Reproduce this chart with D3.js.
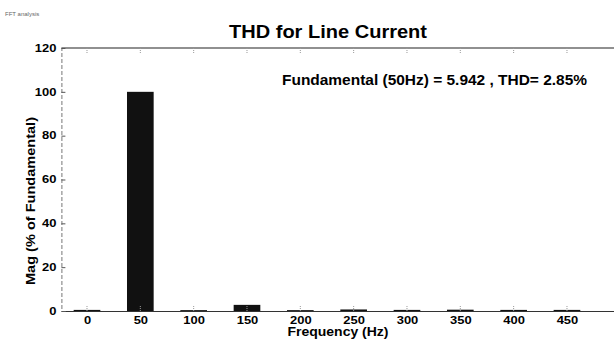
<!DOCTYPE html>
<html><head><meta charset="utf-8">
<script src="https://cdn.jsdelivr.net/npm/d3@7/dist/d3.min.js"></script>
<style>body{margin:0;background:#fff}svg{display:block;font-family:"Liberation Sans",Arial,sans-serif}</style>
</head><body>
<script>
const frequencies = [0, 50, 100, 150, 200, 250, 300, 350, 400, 450];
const magnitudes = [0.5, 100, 0.4, 2.8, 0.4, 0.7, 0.5, 0.6, 0.5, 0.5];
const yTicks = [0, 20, 40, 60, 80, 100, 120];
const xTicks = [0, 50, 100, 150, 200, 250, 300, 350, 400, 450];
const titleText = "THD for Line Current";
const noteText = "Fundamental (50Hz) = 5.942 , THD= 2.85%";

const W = 614, H = 342;
const svg = d3.select("body").append("svg").attr("width", W).attr("height", H);

const x = d3.scaleLinear().domain([-24, 500]).range([61.4, 620.3]);
const y = d3.scaleLinear().domain([0, 120]).range([311, 48]);
const barW = x(25) - x(0);

svg.append("text").attr("x", 5).attr("y", 16).attr("font-size", 6).attr("fill", "#666").text("FFT analysis");

// bars
svg.selectAll("rect.bar").data(frequencies).join("rect")
  .attr("class", "bar")
  .attr("x", d => x(d) - barW / 2)
  .attr("width", barW)
  .attr("y", (d, i) => y(magnitudes[i]))
  .attr("height", (d, i) => y(0) - y(magnitudes[i]))
  .attr("fill", "#111");

function stretchDigits(sel) {
  sel.attr("font-size", 10).attr("font-weight", "bold").attr("fill", "#000")
     .attr("lengthAdjust", "spacingAndGlyphs")
     .attr("textLength", function () { return this.textContent.length * 7.2; });
}

// bottom axis
const xAxis = d3.axisBottom(x).tickValues(xTicks).tickSize(0).tickPadding(6).tickFormat(d3.format("d"));
const gx = svg.append("g").attr("transform", `translate(0,${y(0)})`).call(xAxis);
gx.select(".domain").attr("stroke", "#333").attr("stroke-width", 1.2);
stretchDigits(gx.selectAll("text"));
// inward tick marks bottom
svg.selectAll("line.bt").data(xTicks).join("line").attr("class", "bt")
  .attr("x1", d => x(d)).attr("x2", d => x(d)).attr("y1", y(0)).attr("y2", y(0) - 5)
  .attr("stroke", "#999").attr("stroke-dasharray", "1,1");
// top border + ticks
svg.append("line").attr("x1", x(-24)).attr("x2", W).attr("y1", y(120)).attr("y2", y(120)).attr("stroke", "#222").attr("stroke-width", 1.1);
svg.selectAll("line.tt").data(xTicks).join("line").attr("class", "tt")
  .attr("x1", d => x(d)).attr("x2", d => x(d)).attr("y1", y(120)).attr("y2", y(120) + 5)
  .attr("stroke", "#999").attr("stroke-dasharray", "1,1");

// left axis
const yAxis = d3.axisLeft(y).tickValues(yTicks).tickSize(-4).tickPadding(5);
const gy = svg.append("g").attr("transform", `translate(${x(-24)},0)`).call(yAxis);
gy.select(".domain").attr("stroke", "#777").attr("stroke-dasharray", "4,2");
gy.selectAll(".tick line").attr("stroke", "#555");
stretchDigits(gy.selectAll("text"));

// titles
svg.append("text").attr("x", 328).attr("y", 38).attr("text-anchor", "middle")
  .attr("font-size", 19).attr("font-weight", "bold")
  .attr("lengthAdjust", "spacingAndGlyphs").attr("textLength", 198).text(titleText);
svg.append("text").attr("x", 587).attr("y", 85).attr("text-anchor", "end")
  .attr("font-size", 14).attr("font-weight", "bold")
  .attr("lengthAdjust", "spacingAndGlyphs").attr("textLength", 305).text(noteText);
svg.append("text").attr("x", 338).attr("y", 336).attr("text-anchor", "middle")
  .attr("font-size", 12).attr("font-weight", "bold")
  .attr("lengthAdjust", "spacingAndGlyphs").attr("textLength", 101).text("Frequency (Hz)");
svg.append("text").attr("transform", "translate(35,201) rotate(-90)").attr("text-anchor", "middle")
  .attr("font-size", 12.5).attr("font-weight", "bold")
  .attr("lengthAdjust", "spacingAndGlyphs").attr("textLength", 168).text("Mag (% of Fundamental)");
</script>
</body></html>
